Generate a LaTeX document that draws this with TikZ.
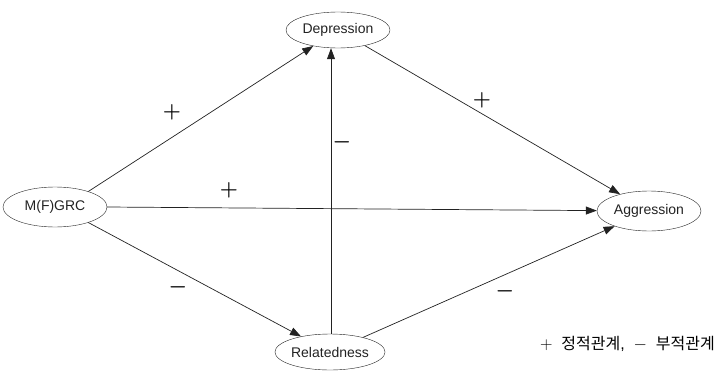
\documentclass[tikz,border=0pt]{standalone}
\usepackage{fontspec}
\setmainfont{Liberation Sans}
\newfontfamily\krfont{Noto Sans CJK KR}
\usepackage{tikz}
\usetikzlibrary{arrows.meta,positioning,shapes.geometric}
\definecolor{mgink}{HTML}{222222}

\begin{document}
\begin{tikzpicture}[x=1pt,y=-1pt,
  varnode/.style={draw=mgink,ellipse,minimum width=104pt,minimum height=40pt,inner sep=0pt,
                  font=\fontsize{14}{16}\selectfont,text=mgink},
  path/.style={draw=mgink,line width=0.7pt,-{Triangle[length=11pt,width=8pt]}},
  sign/.style={font=\fontsize{20}{22}\selectfont\boldmath,text=black}]
\useasboundingbox (0,0) rectangle (717,380);
\node[varnode] (mgrc) at (55,207) {M(F)GRC};
\node[varnode,minimum height=36pt] (dep) at (338,30) {Depression};
\node[varnode] (agg) at (649,211) {Aggression};
\node[varnode,minimum height=36pt] (rel) at (330,352) {Relatedness};
% paths
\draw[path] (mgrc.25) -- (dep);
\draw[path] (mgrc.east) -- (agg);
\draw[path] (mgrc.-25) -- (rel);
\draw[path] (dep) -- (agg);
\draw[path] (rel) -- (agg);
\draw[path] (rel.north -| 331,0) -- (dep.south -| 331,0);
% signs
\node[sign] (s1) at (172,112) {$+$};
\node[sign] (s2) at (229,190) {$+$};
\node[sign] (s3) at (178,287) {$-$};
\node[sign] (s4) at (482,100) {$+$};
\node[sign] (s5) at (342,142) {$-$};
\node[sign] (s6) at (505,291) {$-$};
\node[anchor=east,inner sep=0pt,font=\fontsize{16}{18}\selectfont] (legend) at (715,344)
  {$+$\ \ {\krfont 정적관계},\ \ $-$\ \ {\krfont 부적관계}};
\end{tikzpicture}
\end{document}
